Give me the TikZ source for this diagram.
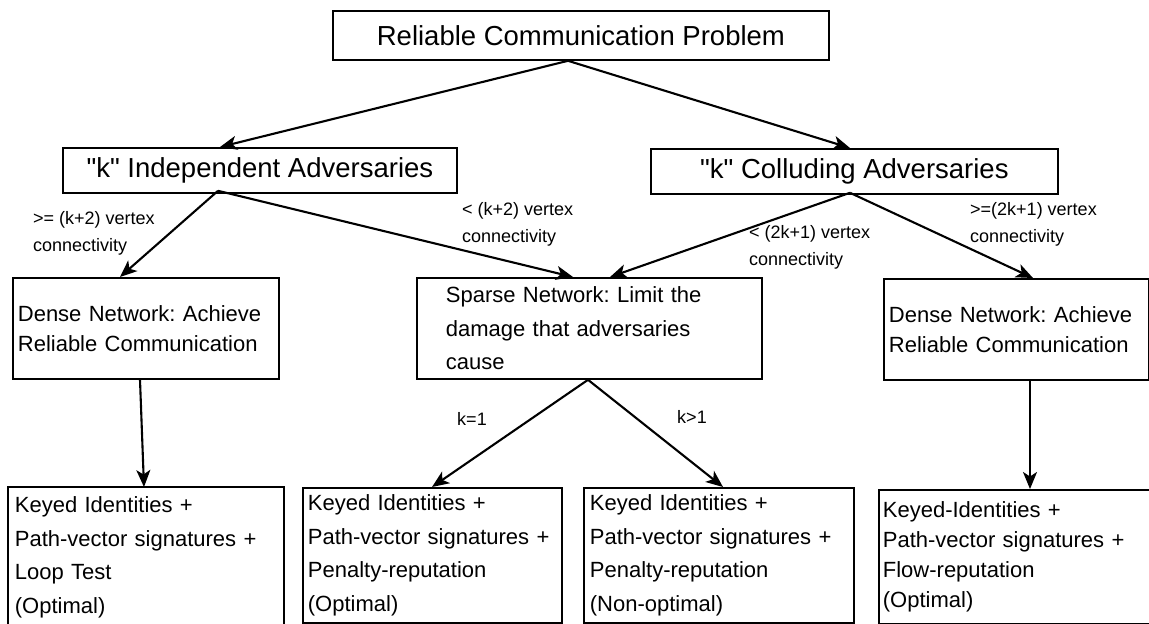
\documentclass[tikz,border=0pt]{standalone}
\usepackage{fontspec}
\setmainfont{Liberation Sans}
\usetikzlibrary{arrows.meta,calc}
\frenchspacing
\begin{document}
\begin{tikzpicture}[x=1pt,y=-1pt,
  frame/.style={draw, line width=1.8pt, anchor=north west, inner sep=0pt},
  header/.style={frame, align=center, font=\fontsize{27.5}{33}\selectfont},
  body/.style={frame, align=left, font=\fontsize{22}{#1}\selectfont},
  body/.default=30,
  tag/.style={inner sep=0pt, align=left, anchor=west, font=\fontsize{18}{27}\selectfont},
  conn/.style={line width=2.1pt, -{Stealth[length=17pt,width=14pt,inset=4.5pt]}}
]
\useasboundingbox (0,0) rectangle (1149,624);

% top of the tree
\node[header, minimum width=496pt, minimum height=49pt] (root) at (332,10) {Reliable Communication Problem};
\node[header, minimum width=394pt, minimum height=45pt] (ind) at (62,147) {\textquotedbl k\textquotedbl{} Independent Adversaries};
\node[header, minimum width=407pt, minimum height=45pt] (col) at (650,148) {\textquotedbl k\textquotedbl{} Colluding Adversaries};

% network classes
\node[body, minimum width=266pt, minimum height=101pt, text width=256pt, inner xsep=5pt] (denseL) at (12,277)
  {Dense Network: Achieve\\Reliable Communication};
\node[body=33.5, minimum width=345pt, minimum height=101pt, text width=287pt, inner xsep=29pt] (sparse) at (416,277)
  {Sparse Network: Limit the\\damage that adversaries\\cause};
\node[body, minimum width=265pt, minimum height=101pt, text width=255pt, inner xsep=5pt] (denseR) at (883,278)
  {Dense Network: Achieve\\Reliable Communication};

% protocols (the first box runs past the bottom edge)
\node[body=33.5, draw=none, minimum width=274pt, minimum height=135pt, text width=262pt, inner xsep=6pt] (b1) at (8,489)
  {Keyed Identities +\\Path-vector signatures +\\Loop Test\\(Optimal)};
\draw[line width=1.8pt] ($(b1.north west)+(0,150)$) -- ($(b1.north west)+(0,-2)$) -- ($(b1.north east)+(0,-2)$) -- ++(0,152);
\node[body=33.5, minimum width=259pt, minimum height=135pt, text width=249pt, inner xsep=5pt] (b2) at (302,487)
  {Keyed Identities +\\Path-vector signatures +\\Penalty-reputation\\(Optimal)};
\node[body=33.5, minimum width=270pt, minimum height=135pt, text width=258pt, inner xsep=6pt] (b3) at (583,487)
  {Keyed Identities +\\Path-vector signatures +\\Penalty-reputation\\(Non-optimal)};
\node[body=30, minimum width=276pt, minimum height=134pt, text width=268pt, inner xsep=4pt] (b4) at (878,489)
  {Keyed-Identities +\\Path-vector signatures +\\Flow-reputation\\(Optimal)};

% connectors
\draw[conn] ($(root.south west)+(236,0)$) -- ($(ind.north west)+(158,0)$);
\draw[conn] ($(root.south west)+(236,0)$) -- ($(col.north west)+(200,0)$);
\draw[conn] ($(ind.south west)+(156,-3)$) -- ($(denseL.north west)+(108,0)$);
\draw[conn] ($(ind.south west)+(156,-3)$) -- ($(sparse.north west)+(157,0)$);
\draw[conn] ($(col.south west)+(200,-2)$) -- ($(sparse.north west)+(194,0)$);
\draw[conn] ($(col.south west)+(200,-2)$) -- ($(denseR.north west)+(150,0)$);
\draw[conn] ($(denseL.south west)+(128,0)$) -- ($(b1.north west)+(136,-2)$);
\draw[conn] ($(sparse.south west)+(172,0)$) -- ($(b2.north west)+(130,0)$);
\draw[conn] ($(sparse.south west)+(172,0)$) -- ($(b3.north west)+(140,0)$);
\draw[conn] ($(denseR.south west)+(147,0)$) -- ($(b4.north west)+(152,0)$);

% connector labels
\node[tag] (t1) at (33,233.5) {>= (k+2) vertex\\connectivity};
\node[tag] (t2) at (462,224.5) {< (k+2) vertex\\connectivity};
\node[tag] (t3) at (749,247.5) {< (2k+1) vertex\\connectivity};
\node[tag] (t4) at (970,224.5) {>=(2k+1) vertex\\connectivity};
\node[tag, anchor=center] (t5) at (472,419) {k=1};
\node[tag, anchor=center] (t6) at (692,417) {k>1};
\end{tikzpicture}
\end{document}
